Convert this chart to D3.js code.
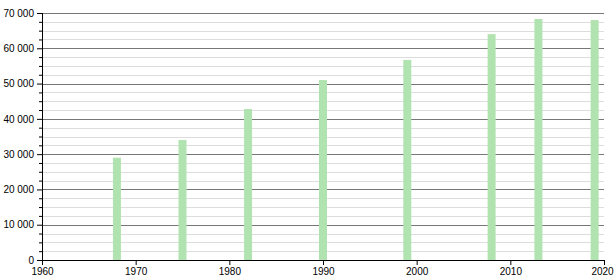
<!DOCTYPE html>
<html>
<head>
<meta charset="utf-8">
<script src="https://cdn.jsdelivr.net/npm/d3@7"></script>
<style>
  body { margin: 0; background: #fff; }
  text { font-family: "Liberation Sans", Arial, sans-serif; font-size: 10px; fill: #000; }
</style>
</head>
<body>
<div id="chart"></div>
<script>
var svgWidth = 615;
var svgHeight = 280;

var margin = { top: 13, right: 11, bottom: 20, left: 42 };
var width = svgWidth - margin.left - margin.right;
var height = svgHeight - margin.top - margin.bottom;

// data
var years = [1968, 1975, 1982, 1990, 1999, 2008, 2013, 2019];
var population = [29000, 34000, 42800, 51000, 56700, 64000, 68300, 68000];
var xTicks = [1960, 1970, 1980, 1990, 2000, 2010, 2020];
var yTicks = [0, 10000, 20000, 30000, 40000, 50000, 60000, 70000];

var svg = d3.select("#chart")
  .append("svg")
  .attr("width", svgWidth)
  .attr("height", svgHeight);

var chartGroup = svg.append("g")
  .attr("transform", `translate(${margin.left}, ${margin.top})`);

var xScale = d3.scaleLinear().domain([1960, 2020]).range([0, width]);
var yScale = d3.scaleLinear().domain([0, 70000]).range([height, 0]);

var minorTicks = d3.range(0, 70001, 2500).filter(d => d % 10000 !== 0);

// minor grid
chartGroup.selectAll(".minor")
  .data(minorTicks)
  .enter()
  .append("line")
  .attr("x1", 0)
  .attr("x2", width)
  .attr("y1", d => Math.round(yScale(d)) + 0.5)
  .attr("y2", d => Math.round(yScale(d)) + 0.5)
  .attr("stroke", "#dddddd");

// major grid
chartGroup.selectAll(".major")
  .data(yTicks.slice(1))
  .enter()
  .append("line")
  .attr("x1", 0)
  .attr("x2", width)
  .attr("y1", d => Math.round(yScale(d)) + 0.5)
  .attr("y2", d => Math.round(yScale(d)) + 0.5)
  .attr("stroke", "#777777");

// bars
var barWidth = 8;
chartGroup.selectAll("rect")
  .data(years)
  .enter()
  .append("rect")
  .attr("x", d => xScale(d) - barWidth / 2)
  .attr("y", (d, i) => yScale(population[i]))
  .attr("width", barWidth)
  .attr("height", (d, i) => height - yScale(population[i]))
  .attr("fill", "#b1e3b1");

var fmt = d => d3.format(",")(d).replace(/,/g, " ");

// left axis with minor ticks
var leftMinor = d3.axisLeft(yScale).tickValues(minorTicks).tickSize(3).tickFormat("");
chartGroup.append("g").call(leftMinor).call(g => g.select(".domain").remove());

var leftAxis = d3.axisLeft(yScale).tickValues(yTicks).tickSize(5).tickPadding(3).tickFormat(fmt);
chartGroup.append("g").call(leftAxis)
  .call(g => g.select(".domain").attr("d", `M0.5,0V${height}`));

var bottomAxis = d3.axisBottom(xScale).tickValues(xTicks).tickSize(5).tickPadding(3).tickFormat(d3.format("d"));
var xAxisG = chartGroup.append("g")
  .attr("transform", `translate(0, ${height})`)
  .call(bottomAxis)
  .call(g => g.select(".domain").attr("d", `M0,0.5H${width}`));

// keep the last year label inside the frame
xAxisG.selectAll(".tick text").filter(d => d === 2020).attr("dx", -2);

svg.selectAll(".tick text").attr("font-family", "Liberation Sans, Arial, sans-serif").attr("font-size", 10);
</script>
</body>
</html>
